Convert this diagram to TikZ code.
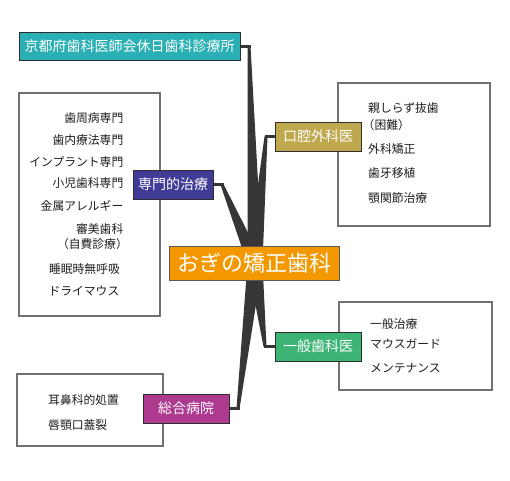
\documentclass[tikz,border=0pt]{standalone}
\usepackage{fontspec}
\setmainfont{Noto Sans CJK JP}
\usetikzlibrary{calc}
\definecolor{cteal}{RGB}{42,176,180}
\definecolor{colive}{RGB}{191,168,77}
\definecolor{cindigo}{RGB}{64,59,150}
\definecolor{cgreen}{RGB}{60,180,115}
\definecolor{cmagenta}{RGB}{174,58,143}
\definecolor{corange}{RGB}{243,152,0}
\definecolor{cconn}{RGB}{56,54,52}
\definecolor{cbox}{RGB}{112,112,112}
\definecolor{ctext}{RGB}{30,30,30}
\definecolor{cborder}{RGB}{45,45,45}
\newcommand\mytaper[3]{%
  \fill[cconn] ($(#1)!1.5pt!90:(#2)$) -- ($(#2)!#3!-90:(#1)$) -- ($(#2)!#3!90:(#1)$) -- ($(#1)!1.5pt!-90:(#2)$) -- cycle;}
\begin{document}
\begin{tikzpicture}[x=1pt,y=-1pt,
  catnode/.style={draw=cborder, line width=1pt, text=white, inner sep=0pt,
    font=\fontsize{14}{14}\selectfont, minimum height=29, text height=12.3pt, text depth=1.7pt},
  topnode/.style={draw=cborder, line width=1pt, fill=cteal, text=white, inner sep=0pt,
    font=\fontsize{14}{14}\selectfont, minimum width=221, minimum height=28,
    text height=12.3pt, text depth=1.7pt},
  mainnode/.style={draw=cborder!80, line width=1pt, fill=corange, text=white, inner sep=0pt,
    font=\fontsize{22}{22}\selectfont, minimum width=170, minimum height=34,
    text height=19.4pt, text depth=2.6pt},
  listbox/.style={draw=cbox, line width=1.2pt, fill=white},
  item/.style={inner sep=0pt, text=ctext, font=\fontsize{11.8}{12}\selectfont, text height=10.4pt, text depth=1.4pt},
  connline/.style={draw=cconn, line width=3pt, line cap=rect}]
\useasboundingbox (0,0) rectangle (510,480);
% content boxes
\draw[listbox] (19,93) rectangle (160,316);
\draw[listbox] (338,83) rectangle (490,226);
\draw[listbox] (339,302) rectangle (492,390);
\draw[listbox] (17,374) rectangle (163,446);
% left list
\node[item,anchor=east] (l1) at (123.5,118) {歯周病専門};
\node[item,anchor=east] (l2) at (123.5,140) {歯内療法専門};
\node[item,anchor=east] (l3) at (123.5,161.5) {インプラント専門};
\node[item,anchor=east] (l4) at (123.5,183) {小児歯科専門};
\node[item,anchor=east] (l5) at (123.5,205.5) {金属アレルギー};
\node[item,anchor=east] (l6) at (123.5,229) {審美歯科};
\node[item,anchor=east] (l7) at (128,244) {（自費診療）};
\node[item,anchor=east] (l8) at (120,268.5) {睡眠時無呼吸};
\node[item,anchor=east] (l9) at (119.5,291) {ドライマウス};
% right top list
\node[item,anchor=west] (r1) at (368,108) {親しらず抜歯};
\node[item,anchor=west] (r2) at (362.5,124.5) {（困難）};
\node[item,anchor=west] (r3) at (368,149) {外科矯正};
\node[item,anchor=west] (r4) at (368,173) {歯牙移植};
\node[item,anchor=west] (r5) at (368,197.5) {顎関節治療};
% right bottom list
\node[item,anchor=west] (g1) at (370,323.5) {一般治療};
\node[item,anchor=west] (g2) at (370,344) {マウスガード};
\node[item,anchor=west] (g3) at (370,367.5) {メンテナンス};
% bottom left list
\node[item,anchor=west] (s1) at (48,399.5) {耳鼻科的処置};
\node[item,anchor=west] (s2) at (48,424.5) {唇顎口蓋裂};
% coordinates
\coordinate (hub) at (255,263);
\coordinate (eTop) at (249,46);
\coordinate (eKo) at (266,136.5);
\coordinate (eSm) at (222,184.5);
\coordinate (eIp) at (265,346.5);
\coordinate (eSg) at (238,408.5);
% category nodes (positions for anchors)
\path (129.5,46) node[topnode] (top) {京都府歯科医師会休日歯科診療所};
\path (318,136.5) node[catnode, fill=colive, minimum width=86] (ko) {口腔外科医};
\path (173,184.5) node[catnode, fill=cindigo, minimum width=80] (sm) {専門的治療};
\path (318,346.5) node[catnode, fill=cgreen, minimum width=86] (ip) {一般歯科医};
\path (186,408.5) node[catnode, fill=cmagenta, minimum width=86] (sg) {総合病院};
% connectors
\draw[connline] (top.east) -- (eTop);
\draw[connline] (ko.west) -- (eKo);
\draw[connline] (sm.east) -- (eSm);
\draw[connline] (ip.west) -- (eIp);
\draw[connline] (sg.east) -- (eSg);
\mytaper{eTop}{hub}{7.5pt}
\mytaper{eKo}{hub}{7.5pt}
\mytaper{eSm}{hub}{7.5pt}
\mytaper{eIp}{hub}{7.5pt}
\mytaper{eSg}{hub}{7.5pt}
% category nodes drawn on top of connectors
\node[topnode] at (top) {京都府歯科医師会休日歯科診療所};
\node[catnode, fill=colive, minimum width=86] at (ko) {口腔外科医};
\node[catnode, fill=cindigo, minimum width=80] at (sm) {専門的治療};
\node[catnode, fill=cgreen, minimum width=86] at (ip) {一般歯科医};
\node[catnode, fill=cmagenta, minimum width=86] at (sg) {総合病院};
% main node
\node[mainnode] (main) at (254,263) {おぎの矯正歯科};
\end{tikzpicture}
\end{document}
